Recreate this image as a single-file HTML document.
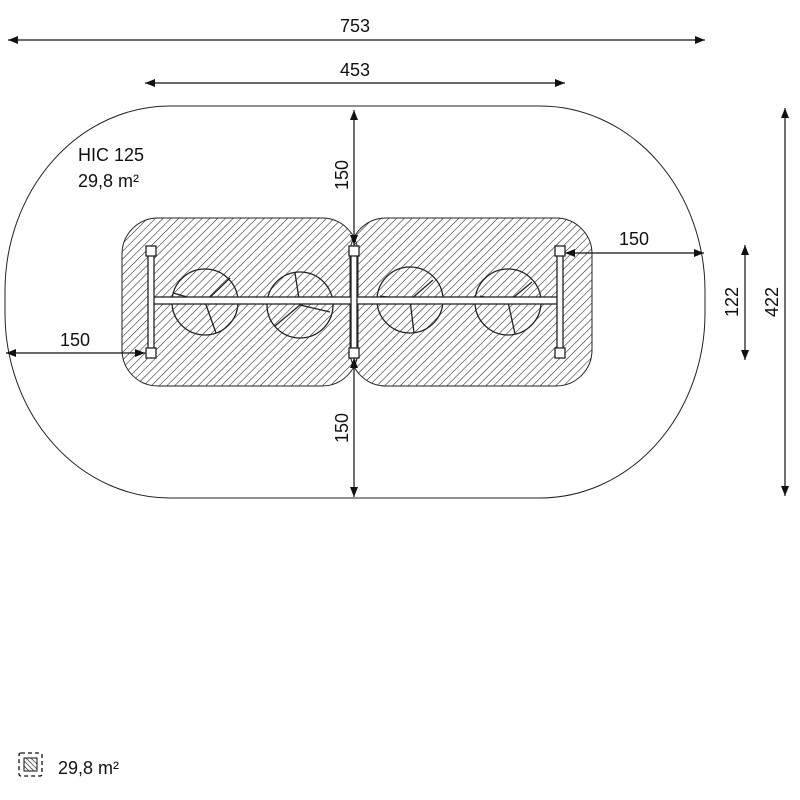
<!DOCTYPE html><html><head><style>body{margin:0;background:#fff}svg{display:block}text{font-family:"Liberation Sans",sans-serif;fill:#111}</style></head><body>
<svg width="800" height="800" viewBox="0 0 800 800" xmlns="http://www.w3.org/2000/svg">
<defs>
<pattern id="h" width="5.5" height="5.5" patternUnits="userSpaceOnUse" patternTransform="rotate(45)"><line x1="0" y1="0" x2="0" y2="5.5" stroke="#222" stroke-width="1.1"/></pattern>
<pattern id="h2" width="3.5" height="3.5" patternUnits="userSpaceOnUse" patternTransform="rotate(-45)"><line x1="0" y1="0" x2="0" y2="3.5" stroke="#111" stroke-width="1.3"/></pattern>
<marker id="a" viewBox="0 0 10 10" refX="10" refY="5" markerWidth="10" markerHeight="10" orient="auto-start-reverse" markerUnits="userSpaceOnUse"><path d="M0,1 L10,5 L0,9 Z" fill="#111"/></marker>
</defs>
<rect x="5" y="106" width="700" height="392" rx="165" ry="185" fill="none" stroke="#222" stroke-width="1"/>
<rect x="122" y="218" width="236" height="168" rx="36" fill="url(#h)" stroke="#222"/>
<rect x="350" y="218" width="242" height="168" rx="36" fill="url(#h)" stroke="#222"/>
<g fill="none" stroke="#222" stroke-width="1.3">
<circle cx="205" cy="302" r="33"/><circle cx="300" cy="305" r="33"/><circle cx="410" cy="300" r="33"/><circle cx="508" cy="302" r="33"/>
<path d="M205,302 L173,293 M205,302 L216,333 M205,302 L230,278"/>
<path d="M300,305 L295,273 M300,305 L330,312 M300,305 L275,326"/>
<path d="M410,300 L380,296 M410,300 L414,333 M410,300 L433,280"/>
<path d="M508,302 L480,296 M508,302 L515,334 M508,302 L532,282"/>
<rect x="151" y="297" width="409" height="7" fill="#fff"/>
<rect x="148" y="250" width="6" height="102" fill="#fff"/><rect x="351" y="250" width="6" height="102" fill="#fff"/><rect x="557" y="250" width="6" height="102" fill="#fff"/>
<rect x="146" y="246" width="10" height="10" fill="#fff"/><rect x="146" y="348" width="10" height="10" fill="#fff"/>
<rect x="349" y="246" width="10" height="10" fill="#fff"/><rect x="349" y="348" width="10" height="10" fill="#fff"/>
<rect x="555" y="246" width="10" height="10" fill="#fff"/><rect x="555" y="348" width="10" height="10" fill="#fff"/>
</g>
<g stroke="#111" stroke-width="1.2" fill="none">
<line x1="8" y1="40" x2="705" y2="40" marker-start="url(#a)" marker-end="url(#a)"/>
<line x1="145" y1="83" x2="565" y2="83" marker-start="url(#a)" marker-end="url(#a)"/>
<line x1="354" y1="110" x2="354" y2="245" marker-start="url(#a)" marker-end="url(#a)"/>
<line x1="354" y1="358" x2="354" y2="497" marker-start="url(#a)" marker-end="url(#a)"/>
<line x1="565" y1="253" x2="704" y2="253" marker-start="url(#a)" marker-end="url(#a)"/>
<line x1="6" y1="353" x2="145" y2="353" marker-start="url(#a)" marker-end="url(#a)"/>
<line x1="745" y1="245" x2="745" y2="360" marker-start="url(#a)" marker-end="url(#a)"/>
<line x1="785" y1="108" x2="785" y2="496" marker-start="url(#a)" marker-end="url(#a)"/>
</g>
<g font-size="18">
<text x="355" y="32" text-anchor="middle">753</text>
<text x="355" y="76" text-anchor="middle">453</text>
<text x="634" y="245" text-anchor="middle">150</text>
<text x="75" y="346" text-anchor="middle">150</text>
<text transform="translate(348,175) rotate(-90)" text-anchor="middle">150</text>
<text transform="translate(348,428) rotate(-90)" text-anchor="middle">150</text>
<text transform="translate(738,302) rotate(-90)" text-anchor="middle">122</text>
<text transform="translate(778,302) rotate(-90)" text-anchor="middle">422</text>
<text x="78" y="161">HIC 125</text>
<text x="78" y="187">29,8 m²</text>
<text x="58" y="774">29,8 m²</text>
</g>
<rect x="19" y="753" width="23" height="23" rx="2" fill="none" stroke="#111" stroke-width="1.3" stroke-dasharray="4,3"/>
<rect x="24" y="758" width="13" height="13" fill="url(#h2)" stroke="#111"/>
</svg></body></html>
